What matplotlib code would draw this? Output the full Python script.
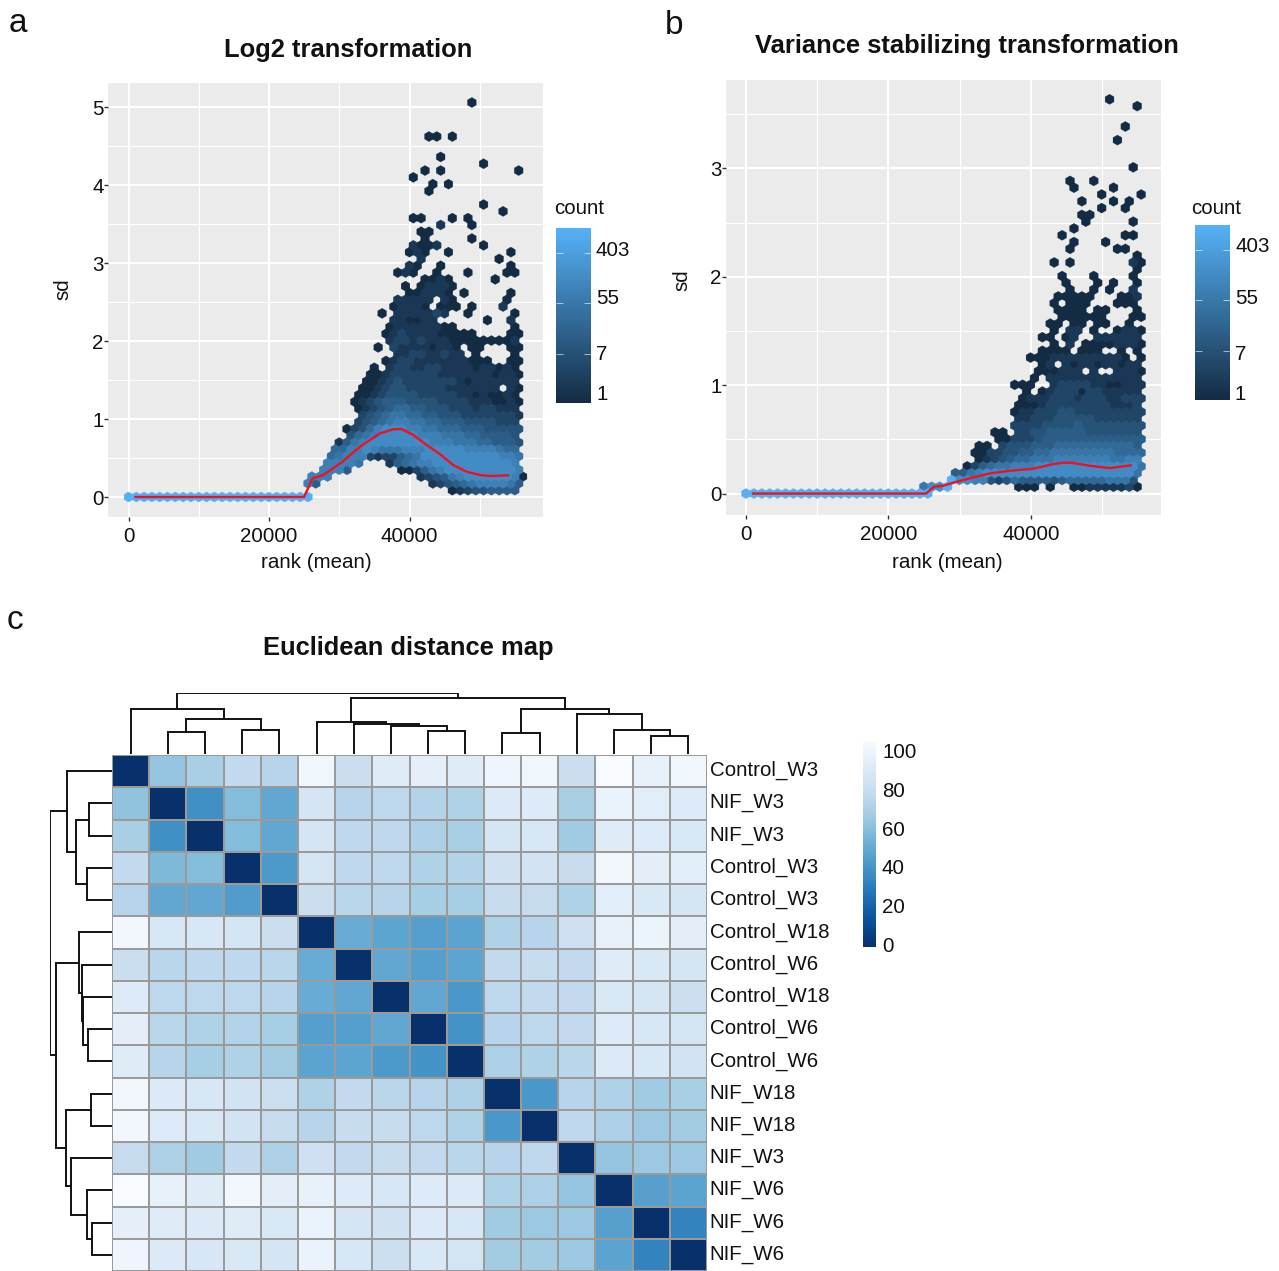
#import packages
import numpy as np
from matplotlib import pyplot as plt
from matplotlib.collections import PolyCollection
from matplotlib.colors import LinearSegmentedColormap, LogNorm, Normalize
from matplotlib.cm import ScalarMappable

plt.rcParams['font.family'] = ['Liberation Sans', 'DejaVu Sans']

W, H = 1279, 1271

#hex bins, one entry per row of bins: first column and count level per bin ('.' is empty)
level_counts = {'1': 1, '2': 2, '3': 4, '4': 8, '5': 14, '6': 26, '7': 48, '8': 85, '9': 150, 'X': 1000}

a_xbin, a_ybin = 1110, 0.0872
a_start = [0, 41, 23, 23, 25, 25, 26, 26, 27, 28, 28, 29, 30, 29, 29, 29, 30, 30, 31, 31,
           33, 34, 32, 33, 33, 33, 34, 32, 34, 34, 36, 35, 38, 34, 36, 37, 36, 36, 38, 37,
           40, 36, 48, 45, 0, 38, 39, 36, 38, 45, 40, 0, 0, 38, 0, 0, 0, 0, 44]
a_levels = ["XXXXXXXXXXXXXXXXXXXXXXXX", "123445555",
            "85..............234567888875", "888...........234578999999" + "81",
            "8885......1135789999999998", "88887...256788" + "99999999998",
            "678883233567" + "9999999999887", "668898777888999998888766",
            "257899999999888777665554", "4678999998887776655554",
            "13468999887766655544444", "345678877665554444333",
            "345677665544433333332", "123456655444333233222",
            "1234555444433332221121", "112344443333322121121",
            "112344333332222222.21", "11234333333321222222",
            "11233333322222221221", "1.23322332222122121",
            "12332222222111..11", "223322322.1....1",
            "1.322221221.11...11", "23323222111111112",
            "123222211111....11", "122222211.......1",
            "221122......1..2", "1.2222232..1.....1",
            "12221.111.1...2", "22222.21......1",
            "112221.1.....1", "1.12221", "1121.....1",
            "121..1...1....11", "21..1........1", "2.........1",
            "121..1.......1", "2112.....1", "1.....1", "11",
            "2...1", "11...1.1", "1", "1", "", "1", "1.1", "1",
            "1.1.........1", "1", "1", "", "", "11.1", "", "", "", "", "1"]

b_xbin, b_ybin = 1110, 0.0627
b_start = [0, 22, 26, 26, 28, 29, 29, 29, 32, 31, 34, 34, 34, 34, 35, 35, 34, 36, 37, 37,
           36, 37, 39, 37, 39, 38, 40, 39, 39, 39, 41, 40, 40, 49, 39, 49, 41, 41, 40, 41,
           43, 42, 45, 42, 45, 41, 41, 0, 49, 0, 0, 0, 47, 0, 48, 0, 0, 49, 46]
b_levels = ["XXXXXXXXXXXXXXXXXXXXXXXX", "799X........111.1..112222231",
            "X99884346555545666667774", "5578" + "9999999999999999999" + "7",
            "135677888" + "9999999999999" + "7", "1234566777" + "888888" + "87788",
            "1133445566" + "77777777" + "6666", "11.3444555" + "6666666666" + "5",
            "113334" + "5555555555555", "11.3344" + "55555" + "4444444",
            "333344445" + "44444444", "2233344444" + "333333",
            "12233344" + "333333333", "1112" + "33333333" + "222" + "3",
            "1222333233322333", "1.12333133" + "22222",
            "111..233332211222", "1." + "222222222222",
            "111222.2..2221", "12.2122122122",
            "111" + "222222222" + "1.1", "1111.111..1.1",
            "1.2.11112221", "11.12.." + "222222",
            "1.22.1..1221", "11.11.11..1",
            "111111...11", "1111.11...1",
            "1.111...111", "11111...112",
            "1..1.1..2", "1...1.1..1", "1...1....1", "1",
            "1.1.......21", "1", "1.....11", "1...1",
            "1.......11", "1", "1.....1", "11", "1..1",
            "1...1.1", "1....1", "1....1", "1..1", "", "1",
            "", "", "", "1", "", "1", "", "", "1", "1"]

#red trend lines
a_line_x = [1000, 21550, 24960, 26200, 27710, 30330, 32930, 35770, 37670, 38860, 40510,
            42410, 44280, 46180, 48080, 50000, 51420, 54020]
a_line_y = [0, 0, 0, 0.24, 0.282, 0.445, 0.645, 0.816, 0.868, 0.872, 0.795,
            0.667, 0.551, 0.41, 0.325, 0.282, 0.269, 0.278]
b_line_x = [1000, 24440, 25280, 26400, 27710, 29590, 31930, 34270, 37080, 40350, 43160,
            44570, 45740, 48310, 51120, 54030]
b_line_y = [0, 0, 0, 0.063, 0.072, 0.109, 0.149, 0.186, 0.21, 0.229, 0.272,
            0.284, 0.284, 0.256, 0.235, 0.26]

#heatmap values
sample_labels = ['Control_W3', 'NIF_W3', 'NIF_W3', 'Control_W3', 'Control_W3', 'Control_W18',
                 'Control_W6', 'Control_W18', 'Control_W6', 'Control_W6', 'NIF_W18', 'NIF_W18',
                 'NIF_W3', 'NIF_W6', 'NIF_W6', 'NIF_W6']
dist_1 = [0, 60, 66, 74, 70, 96, 77, 88, 91, 88, 95, 96, 77, 100, 92, 96]
dist_2 = [59, 0, 37, 56, 47, 83, 70, 72, 69, 68, 86, 87, 66, 93, 89, 87]
dist_3 = [66, 37, 0, 56, 47, 83, 73, 73, 67, 66, 83, 84, 63, 88, 87, 85]
dist_4 = [74, 55, 56, 0, 41, 82, 73, 72, 68, 69, 80, 81, 75, 97, 90, 89]
dist_5 = [70, 47, 47, 42, 0, 77, 71, 70, 65, 65, 76, 75, 68, 89, 85, 83]
dist_6 = [97, 84, 84, 82, 77, 0, 49, 46, 43, 45, 68, 70, 79, 92, 94, 90]
dist_7 = [77, 71, 73, 73, 71, 49, 0, 47, 43, 46, 74, 76, 74, 88, 85, 83]
dist_8 = [87, 72, 72, 72, 70, 49, 47, 0, 47, 40, 72, 74, 74, 85, 83, 78]
dist_9 = [90, 71, 68, 69, 65, 43, 43, 47, 0, 38, 70, 72, 74, 87, 84, 82]
dist_10 = [88, 70, 65, 68, 64, 45, 46, 41, 38, 0, 67, 68, 71, 86, 84, 81]
dist_11 = [96, 86, 84, 81, 78, 68, 74, 71, 70, 67, 0, 40, 70, 68, 63, 66]
dist_12 = [97, 87, 85, 81, 75, 70, 76, 76, 72, 68, 40, 0, 73, 67, 62, 64]
dist_13 = [75, 67, 63, 74, 67, 79, 74, 75, 74, 71, 70, 73, 0, 60, 62, 62]
dist_14 = [100, 92, 88, 97, 90, 92, 87, 84, 87, 86, 68, 67, 60, 0, 44, 45]
dist_15 = [91, 88, 86, 88, 85, 93, 83, 80, 86, 84, 63, 62, 62, 44, 0, 32]
dist_16 = [95, 86, 84, 85, 83, 93, 84, 78, 85, 82, 64, 64, 62, 45, 32, 0]

#dendrogram merges, same tree on both sides (ids above 15 are earlier merges)
tree_left = [1, 3, 16, 0, 8, 7, 6, 5, 10, 14, 13, 12, 24, 23, 19]
tree_right = [2, 4, 17, 18, 9, 20, 21, 22, 11, 15, 25, 26, 27, 28, 29]
col_heights = [22.3, 24, 34.7, 44.7, 23.3, 28, 30, 31.7, 20.7, 18, 24, 39.7, 44.7, 55.7, 60.7]
row_heights = [22.7, 25.3, 36, 45.3, 24.3, 28.7, 29.7, 32.7, 21.3, 19.7, 25.3, 41, 46, 56.3, 62]

hex_ticks = [1, 7, 55, 403]
dist_ticks = [0, 20, 40, 60, 80, 100]

fig = plt.figure(figsize=(W / 100, H / 100), dpi=100)
txt = '#111111'
hex_cmap = LinearSegmentedColormap.from_list('gg', ['#132B43', '#56B1F7'])
hex_norm = LogNorm(1, 1100)


def box(l, t, r, b):
    #axes from pixel edges of the picture
    return fig.add_axes([l / W, 1 - b / H, (r - l) / W, (b - t) / H])


def label(x, y, s, **kw):
    kw.setdefault('ha', 'center')
    kw.setdefault('va', 'center')
    kw.setdefault('color', txt)
    fig.text(x / W, 1 - (y + 1) / H, s, **kw)


def hex_panel(rect, xlim, ylim, yticks, yminor, xbin, ybin, start, levels, line_x, line_y):
    ax = box(*rect)
    ax.set_facecolor('#EBEBEB')
    ax.set_xlim(xlim)
    ax.set_ylim(ylim)
    ax.set_axisbelow(True)
    ax.set_xticks([0, 20000, 40000])
    ax.set_xticks([10000, 30000, 50000], minor=True)
    ax.set_yticks(yticks)
    ax.set_yticks(yminor, minor=True)
    ax.grid(which='major', color='white', lw=1.5)
    ax.grid(which='minor', color='white', lw=0.8)
    ax.tick_params(which='minor', length=0)
    ax.tick_params(which='major', length=3, width=1, color='#333333', labelsize=14.8,
                   labelcolor=txt)
    ax.tick_params(axis='x', which='major', pad=4)
    ax.tick_params(axis='y', which='major', pad=0)
    for s in ax.spines.values():
        s.set_visible(False)
    verts, counts = [], []
    #a little larger than the bin pitch, the reference hexes run into each other
    hx, hy = xbin / 2 * 1.12, ybin * 2 / 3 * 1.12
    for r, (c0, lev) in enumerate(zip(start, levels)):
        for i, ch in enumerate(lev):
            if ch == '.':
                continue
            x = (c0 + i + (r % 2) / 2) * xbin
            y = r * ybin
            verts.append([(x, y + hy), (x + hx, y + hy / 2), (x + hx, y - hy / 2),
                          (x, y - hy), (x - hx, y - hy / 2), (x - hx, y + hy / 2)])
            counts.append(level_counts[ch])
    #brightest bins last so the overlap does not darken them
    order = np.argsort(counts, kind='stable')
    verts = [verts[i] for i in order]
    counts = np.array(counts, dtype=float)[order]
    pc = PolyCollection(verts, array=counts, cmap=hex_cmap, norm=hex_norm,
                        edgecolors='face', linewidths=0.2)
    ax.add_collection(pc)
    ax.plot(line_x, line_y, color='#F01020', lw=1.7, solid_joinstyle='round')
    return pc


def hex_legend(pc, rect, label_ys):
    cax = box(*rect)
    cb = fig.colorbar(pc, cax=cax)
    cb.outline.set_visible(False)
    cb.minorticks_off()
    cb.set_ticks([])
    cax.hlines(hex_ticks, 0, 0.2, color='white', lw=0.6, alpha=0.7, transform=cax.get_yaxis_transform())
    cax.hlines(hex_ticks, 0.8, 1, color='white', lw=0.6, alpha=0.7, transform=cax.get_yaxis_transform())
    for v, y in zip(hex_ticks, label_ys):
        label(rect[2] + 5, y, str(v), ha='left', fontsize=14.8)


#panel a
pc = hex_panel((108, 83, 543, 517), (-2916, 58960), (-0.2564, 5.308), [0, 1, 2, 3, 4, 5],
               [0.5, 1.5, 2.5, 3.5, 4.5], a_xbin, a_ybin, a_start, a_levels, a_line_x, a_line_y)
hex_legend(pc, (556, 228, 591, 403), [393, 353, 298, 250])
label(579, 208, 'count', fontsize=14.8)
label(348, 48.5, 'Log2 transformation', fontsize=18.4, fontweight='bold')
label(316, 562, 'rank (mean)', fontsize=14.8)
label(63, 288, 'sd', fontsize=14.8, rotation=90)
label(18, 22, 'a', fontsize=24)

#panel b
pc = hex_panel((726, 80, 1161, 515), (-2809, 58287), (-0.198, 3.815), [0, 1, 2, 3],
               [0.5, 1.5, 2.5, 3.5], b_xbin, b_ybin, b_start, b_levels, b_line_x, b_line_y)
hex_legend(pc, (1195, 225, 1230, 400), [393, 353, 298, 245])
label(1216, 208, 'count', fontsize=14.8)
label(967, 45.5, 'Variance stabilizing transformation', fontsize=18.4, fontweight='bold')
label(947, 562, 'rank (mean)', fontsize=14.8)
label(682, 279, 'sd', fontsize=14.8, rotation=90)
label(674, 24, 'b', fontsize=24)

#panel c heatmap
dist = np.array([dist_1, dist_2, dist_3, dist_4, dist_5, dist_6, dist_7, dist_8,
                 dist_9, dist_10, dist_11, dist_12, dist_13, dist_14, dist_15, dist_16])
heat_norm = Normalize(0, 100)
ax = box(112, 755, 707, 1271)
ax.pcolormesh(dist, cmap='Blues_r', norm=heat_norm, edgecolors='#9A9A9A', linewidth=1.35)
ax.set_xlim(0, 16)
ax.set_ylim(16, 0)
ax.set_xticks([])
ax.set_yticks(np.arange(16) + 0.42, sample_labels)
ax.yaxis.tick_right()
ax.tick_params(axis='y', length=0, pad=2, labelsize=14.8, labelcolor=txt)
for s in ax.spines.values():
    s.set_visible(False)


def dendro(ax, left, right, heights, vertical):
    pos = {i: i + 0.5 for i in range(16)}
    tops = {i: 0 for i in range(16)}
    for n, (a, b, h) in enumerate(zip(left, right, heights)):
        xs = [pos[a], pos[a], pos[b], pos[b]]
        ys = [tops[a], h, h, tops[b]]
        if vertical:
            ax.plot(xs, ys, color='#111111', lw=1.4, solid_joinstyle='miter')
        else:
            ax.plot(ys, xs, color='#111111', lw=1.4, solid_joinstyle='miter')
        pos[16 + n] = (pos[a] + pos[b]) / 2
        tops[16 + n] = h
    ax.axis('off')


dtop = box(112, 693, 707, 754)
dendro(dtop, tree_left, tree_right, col_heights, True)
dtop.set_xlim(0, 16)
dtop.set_ylim(0, 61)

dside = box(50, 755, 112, 1271)
dendro(dside, tree_left, tree_right, row_heights, False)
dside.set_xlim(62, 0)
dside.set_ylim(16, 0)

cax = box(863, 741, 876, 947)
cb = fig.colorbar(ScalarMappable(norm=heat_norm, cmap='Blues_r'), cax=cax)
cb.outline.set_visible(False)
cb.set_ticks([])
for v in dist_ticks:
    label(882, 945 - 1.93 * v, str(v), ha='left', fontsize=14.8)

label(408.5, 647, 'Euclidean distance map', fontsize=18.4, fontweight='bold')
label(15, 620, 'c', fontsize=24)

fig.savefig('out.png', dpi=100)
